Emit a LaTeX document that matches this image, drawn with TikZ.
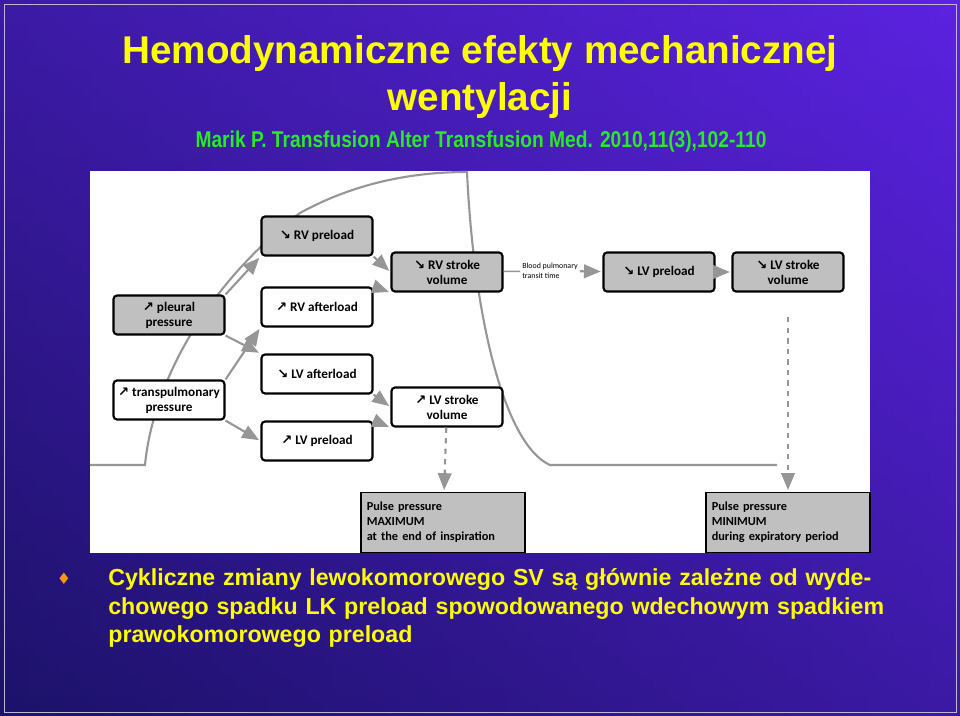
\documentclass[tikz,border=0pt]{standalone}
\usepackage{fontspec}
\setmainfont{Liberation Sans}
\newfontfamily\boxfont{Carlito}
\newfontfamily\narrowfont{Liberation Sans}[FakeStretch=0.84]
\newfontfamily\arrfont{DejaVu Sans}
\usetikzlibrary{arrows}
\newcommand{\arrdn}{{\arrfont\char"2198}}
\newcommand{\arrup}{{\arrfont\char"2197}}
\definecolor{slidel}{RGB}{28,18,105}
\definecolor{slider}{RGB}{92,34,225}
\definecolor{boxgray}{RGB}{192,192,192}
\definecolor{linegray}{RGB}{150,150,150}
\definecolor{titleyel}{RGB}{255,255,0}
\definecolor{citegreen}{RGB}{40,235,40}

\begin{document}
\begin{tikzpicture}[x=0.02cm,y=-0.02cm,>=triangle 45,
  main node/.style={rectangle,rounded corners=2pt,draw,very thick,fill=white,
    font=\boxfont\bfseries\fontsize{7.5}{8.5}\selectfont,align=center,
    minimum width=2.22cm,minimum height=0.78cm,inner sep=1pt},
  gray node/.style={main node,fill=boxgray},
  pulse node/.style={rectangle,draw,thick,fill=boxgray,align=left,
    font=\boxfont\bfseries\fontsize{7}{8.6}\selectfont,
    minimum width=3.2cm,minimum height=1.2cm,text width=3.05cm},
  link/.style={->,linegray,very thick,shorten >=1pt}]

  \useasboundingbox (0,0) rectangle (960,716);
  \shade[left color=slidel,right color=slider] (0,0) rectangle (960,716);
  \shade[top color=slider,bottom color=slidel,opacity=0.5] (0,0) rectangle (960,716);
  \draw[white!70!slidel,thin] (4,4) rectangle (956,712);

  % title
  \node[titleyel,font=\bfseries\fontsize{22}{27}\selectfont,align=center] (Title) at (480,77)
    {Hemodynamiczne efekty mechanicznej\\wentylacji};
  \node[citegreen,font=\narrowfont\bfseries\fontsize{13}{15}\selectfont] (Cite) at (481,142)
    {Marik P. Transfusion Alter Transfusion Med. 2010,11(3),102-110};

  % diagram
  \fill[white] (90,171) rectangle (870,553);
  \begin{scope}
    \clip (90,171) rectangle (870,553);
    \draw[linegray,very thick] (90,465) -- (145,465)
      .. controls (152,390) and (200,290) .. (300,213)
      .. controls (360,180) and (420,172) .. (467,172)
      .. controls (474,320) and (505,445) .. (550,465) -- (777,465);
  \end{scope}

  \node[gray node] (Pleural) at (169,315) {\arrup\ pleural\\pressure};
  \node[main node] (Transpul) at (169,400) {\arrup\ transpulmonary\\pressure};
  \node[gray node] (RVpre) at (317,236) {\arrdn\ RV preload};
  \node[main node] (RVafter) at (317,307) {\arrup\ RV afterload};
  \node[main node] (LVafter) at (317,374) {\arrdn\ LV afterload};
  \node[main node] (LVpre) at (317,441) {\arrup\ LV preload};
  \node[gray node] (RVsv) at (447,272) {\arrdn\ RV stroke\\volume};
  \node[main node] (LVsv) at (447,407) {\arrup\ LV stroke\\volume};
  \node[gray node] (LVpreE) at (659,272) {\arrdn\ LV preload};
  \node[gray node] (LVsvE) at (788,272) {\arrdn\ LV stroke\\volume};
  \node[font=\boxfont\fontsize{4.5}{5.5}\selectfont,align=left,inner sep=1pt]
    (Transit) at (550,271) {Blood pulmonary\\transit time};
  \node[pulse node,anchor=south] (PPmax) at (443,553)
    {Pulse pressure\\MAXIMUM\\at the end of inspiration};
  \node[pulse node,anchor=south] (PPmin) at (788,553)
    {Pulse pressure\\MINIMUM\\during expiratory period};

  \path[link]
    (Pleural.north east) edge (RVpre.south west)
    (Pleural.south east) edge (LVafter.north west)
    (Transpul.north east) edge (RVafter.south west)
    (Transpul.south east) edge (LVpre.west)
    (RVpre.south east) edge (RVsv.west)
    (RVafter.north east) edge (RVsv.south west)
    (LVafter.south east) edge (LVsv.west)
    (LVpre.north east) edge (LVsv.south west)
    (Transit) edge (LVpreE)
    (LVpreE) edge (LVsvE)
    (LVsv) edge [dashed] (PPmax)
    (LVsvE) edge [dashed,shorten <=14pt] (PPmin)
    ;
  \draw[linegray,thick] (RVsv) -- (Transit);

  % bullet text
  \node[text=orange!80!yellow,font=\fontsize{9}{9}\selectfont] (Bullet) at (64,579) {\arrfont\char"2666};
  \node[titleyel,font=\bfseries\fontsize{13.2}{16.4}\selectfont,text width=16.1cm,
    anchor=north west,inner sep=0pt] (Body) at (108,568)
    {Cykliczne zmiany lewokomorowego SV są głównie zależne od wydechowego spadku LK preload spowodowanego wdechowym spadkiem prawokomorowego preload};
\end{tikzpicture}
\end{document}
